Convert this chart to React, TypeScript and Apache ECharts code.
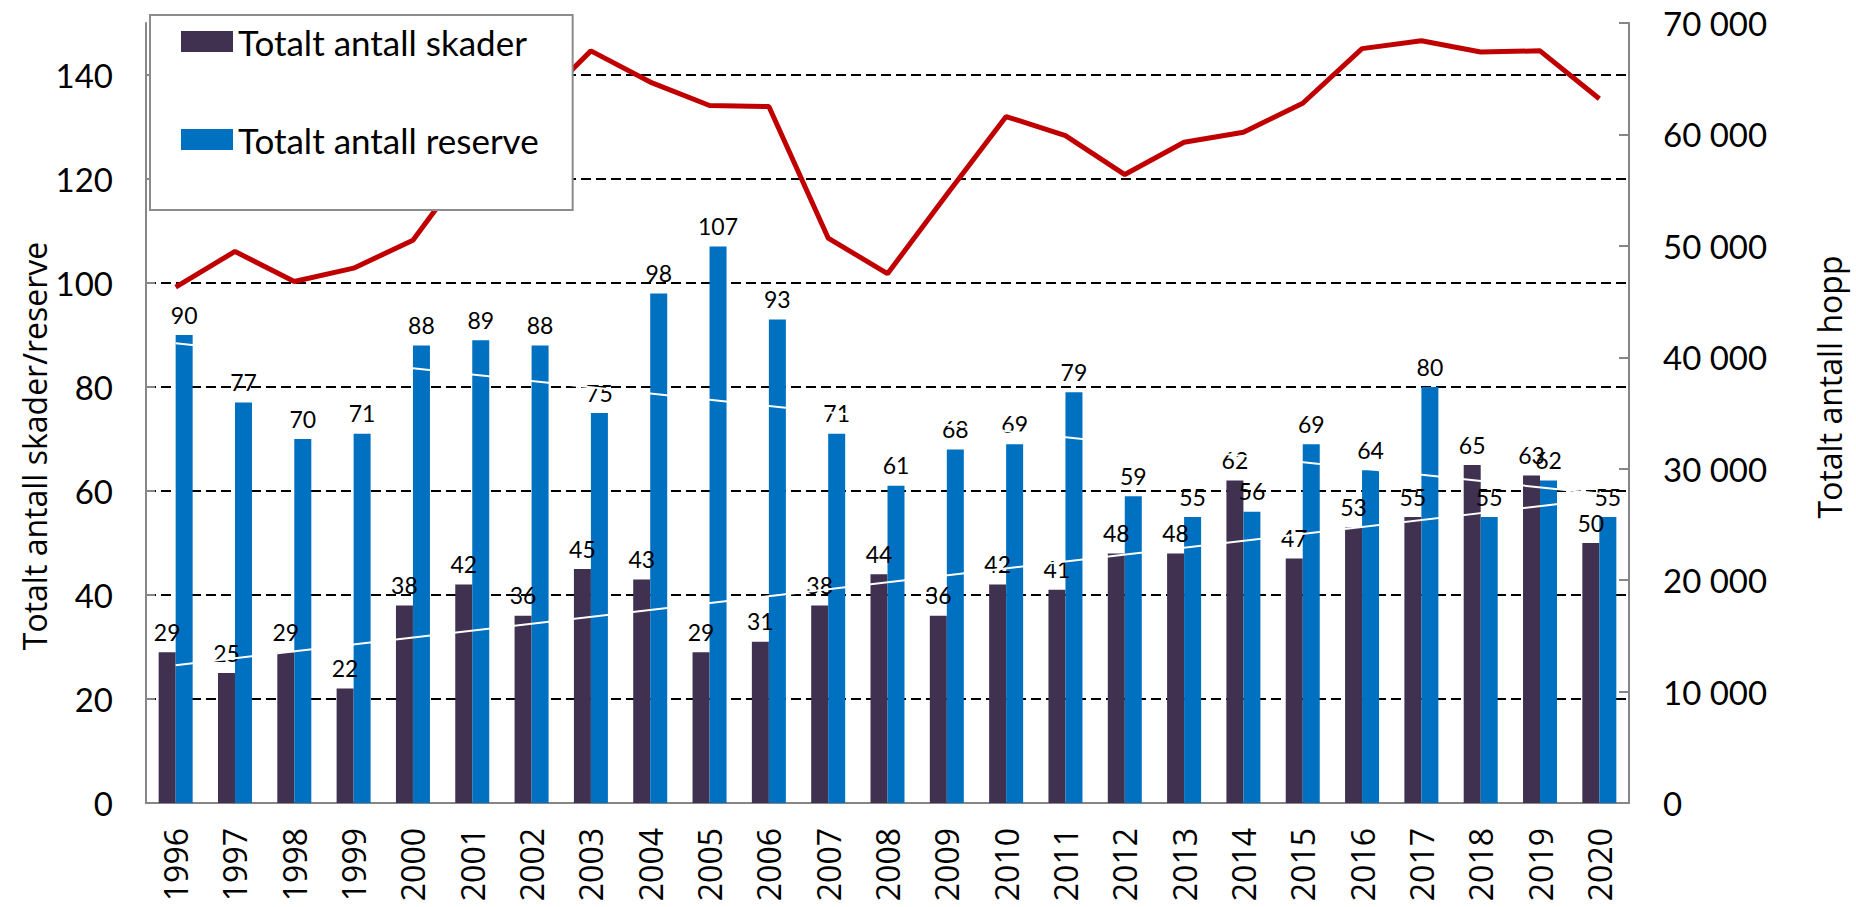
import React, { useEffect, useRef } from 'react';
import * as echarts from 'echarts';

const years = ['1996','1997','1998','1999','2000','2001','2002','2003','2004','2005','2006','2007','2008','2009','2010','2011','2012','2013','2014','2015','2016','2017','2018','2019','2020'];
const skader = [29,25,29,22,38,42,36,45,43,29,31,38,44,36,42,41,48,48,62,47,53,55,65,63,50];
const reserve = [90,77,70,71,88,89,88,75,98,107,93,71,61,68,69,79,59,55,56,69,64,80,55,62,55];
const hopp = [46300,49500,46800,48000,50500,57700,62200,67500,64700,62600,62500,50700,47500,54600,61600,59900,56400,59300,60200,62800,67700,68400,67400,67500,63200];
// linear trend lines (white) read at first and last year
const skaderTrend = [26.5, 58.4];
const reserveTrend = [88.4, 59.5];
const leftTicks = [0,20,40,60,80,100,120,140];
const names = ['Totalt antall skader', 'Totalt antall reserve'];

export default function App() {
  const ref = useRef<HTMLDivElement>(null);
  useEffect(() => {
    const chart = echarts.init(ref.current!, null, { renderer: 'svg' });
    const gray = '#868686';
    const barLabel = { show: true, position: 'top', distance: 9, fontFamily: 'Lato', fontSize: 23, color: '#000' };
    chart.setOption({
      animation: false,
      backgroundColor: '#fff',
      grid: { left: 146, right: 227, top: 23, bottom: 104, containLabel: false },
      legend: {
        data: names,
        orient: 'vertical',
        left: 150,
        top: 15,
        icon: 'rect',
        itemWidth: 52,
        itemHeight: 21,
        itemGap: 63,
        padding: [9, 34, 53, 31],
        backgroundColor: '#fff',
        borderColor: '#8c8c8c',
        borderWidth: 2,
        textStyle: { fontFamily: 'Lato', fontSize: 35, color: '#000' },
      },
      xAxis: {
        type: 'category',
        data: years,
        axisLine: { lineStyle: { color: gray, width: 2 } },
        axisTick: { show: false },
        axisLabel: { rotate: 90, fontFamily: 'Open Sans', fontSize: 32, color: '#000', margin: 25 },
      },
      yAxis: [
        {
          type: 'value', min: 0, max: 150, interval: 20, position: 'left',
          axisLine: { show: true, lineStyle: { color: gray, width: 2 } },
          axisTick: { show: true, inside: true, length: 9, customValues: leftTicks, lineStyle: { color: gray, width: 2 } },
          axisLabel: { customValues: leftTicks, fontFamily: 'Lato', fontSize: 33, color: '#000', margin: 33 },
          splitLine: { show: true, customValues: leftTicks, lineStyle: { color: '#000', type: [10, 5], width: 2 } },
        },
        {
          type: 'value', min: 0, max: 70000, interval: 10000, position: 'right',
          axisLine: { show: true, lineStyle: { color: gray, width: 2 } },
          axisTick: { show: true, inside: true, length: 10, lineStyle: { color: gray, width: 2 } },
          axisLabel: {
            fontFamily: 'Lato', fontSize: 33, color: '#000', margin: 34,
            formatter: (v: number) => (v === 0 ? '0' : Math.round(v / 1000) + ' 000'),
          },
          splitLine: { show: false },
        },
      ],
      series: [
        { name: names[0], type: 'bar', data: skader, barWidth: 17, barGap: '0%', itemStyle: { color: '#403151' }, label: barLabel, z: 2 },
        { name: names[1], type: 'bar', data: reserve, barWidth: 17, barGap: '0%', itemStyle: { color: '#0070C0' }, label: barLabel, z: 2 },
        { name: 'Totalt antall hopp', type: 'line', yAxisIndex: 1, data: hopp, symbol: 'none', lineStyle: { color: '#C00000', width: 5 }, itemStyle: { color: '#C00000' }, z: 3 },
        { name: 'trend skader', type: 'line', data: [[0, skaderTrend[0]], [years.length - 1, skaderTrend[1]]], symbol: 'none', silent: true, lineStyle: { color: '#fff', width: 2 }, z: 6 },
        { name: 'trend reserve', type: 'line', data: [[0, reserveTrend[0]], [years.length - 1, reserveTrend[1]]], symbol: 'none', silent: true, lineStyle: { color: '#fff', width: 2 }, z: 6 },
      ],
      graphic: [
        { type: 'text', x: 34, y: 446, rotation: Math.PI / 2, style: { text: 'Totalt antall skader/reserve', font: '32px "Open Sans"', fill: '#000', textAlign: 'center', textVerticalAlign: 'middle' } },
        { type: 'text', x: 1829, y: 387, rotation: Math.PI / 2, style: { text: 'Totalt antall hopp', font: '32px "Open Sans"', fill: '#000', textAlign: 'center', textVerticalAlign: 'middle' } },
      ],
    });
    return () => chart.dispose();
  }, []);
  return <div ref={ref} style={{ position: 'absolute', left: 0, top: 0, width: 1856, height: 907, background: '#fff' }} />;
}
